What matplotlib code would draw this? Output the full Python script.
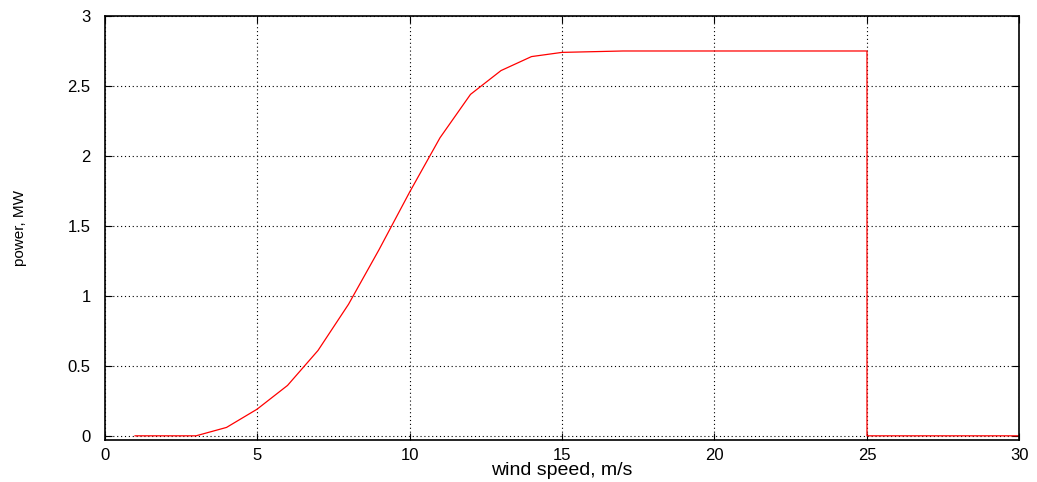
import matplotlib
matplotlib.use('Agg')
import matplotlib.pyplot as plt

# --- Data: turbine power curve ---
wind_speed = [1, 2, 3, 4, 5, 6, 7, 8, 9, 10, 11, 12, 13, 14, 15, 16, 17, 18, 19, 20,
              21, 22, 23, 24, 25, 25, 26, 27, 28, 29, 30]
power_mw = [0, 0, 0, 0.06, 0.19, 0.36, 0.61, 0.94, 1.33, 1.74, 2.13, 2.44, 2.61, 2.71,
            2.74, 2.745, 2.75, 2.75, 2.75, 2.75, 2.75, 2.75, 2.75, 2.75, 2.75,
            0, 0, 0, 0, 0, 0]

x_ticks = [0, 5, 10, 15, 20, 25, 30]
y_ticks = [0, 0.5, 1, 1.5, 2, 2.5, 3]
y_tick_labels = ["0", "0.5", "1", "1.5", "2", "2.5", "3"]

plt.rcParams['font.family'] = ['Liberation Sans', 'DejaVu Sans']

fig = plt.figure(figsize=(10.37, 4.82), dpi=100)
ax = fig.add_axes([0.1008, 0.0871, 0.8823, 0.8797])

ax.plot(wind_speed, power_mw, color='red', lw=0.9)

ax.set_xlim(0, 30)
ax.set_ylim(-0.03, 3)
ax.set_xticks(x_ticks)
ax.set_yticks(y_ticks)
ax.set_yticklabels(y_tick_labels)
ax.grid(True, color='black', linestyle=(0, (1, 2.5)), lw=0.8)
ax.set_axisbelow(True)

ax.tick_params(direction='in', top=True, right=True, length=5, width=0.8,
               labelsize=12)
ax.tick_params(axis='y', pad=10)
ax.tick_params(axis='x', pad=6)
for s in ax.spines.values():
    s.set_linewidth(1.2)

ax.set_xlabel("wind speed, m/s", fontsize=14, labelpad=-1)
ax.set_ylabel("power, MW", fontsize=11, labelpad=29)

fig.savefig("out.png", dpi=100)
plt.close()
